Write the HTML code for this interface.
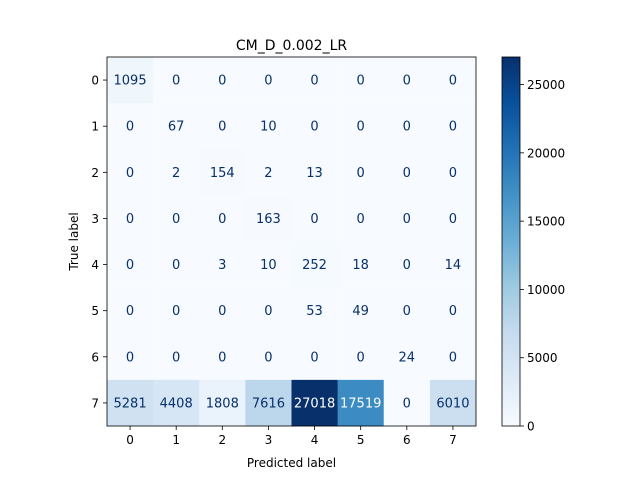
<!DOCTYPE html>
<html><head><meta charset="utf-8"><style>
body{margin:0;background:#fff}
svg text{font-family:"DejaVu Sans","Liberation Sans",sans-serif}
</style></head><body>
<svg id="c" width="640" height="480" xmlns="http://www.w3.org/2000/svg">
<defs><linearGradient id="g" x1="0" y1="1" x2="0" y2="0">
<stop offset="0" stop-color="#f7fbff"/><stop offset="0.125" stop-color="#deebf7"/><stop offset="0.25" stop-color="#c6dbef"/><stop offset="0.375" stop-color="#9ecae1"/><stop offset="0.5" stop-color="#6baed6"/><stop offset="0.625" stop-color="#4292c6"/><stop offset="0.75" stop-color="#2171b5"/><stop offset="0.875" stop-color="#08519c"/><stop offset="1" stop-color="#08306b"/></linearGradient></defs>
</svg>
<script>
const labels=[0,1,2,3,4,5,6,7];
const matrix=[
[1095,0,0,0,0,0,0,0],
[0,67,0,10,0,0,0,0],
[0,2,154,2,13,0,0,0],
[0,0,0,163,0,0,0,0],
[0,0,3,10,252,18,0,14],
[0,0,0,0,53,49,0,0],
[0,0,0,0,0,0,24,0],
[5281,4408,1808,7616,27018,17519,0,6010]];
const cbTicks=[0,5000,10000,15000,20000,25000];
const svg=document.getElementById('c');
const NS='http://www.w3.org/2000/svg';
const L=107,T=57,W=369,H=369,n=labels.length,cw=W/n,ch=H/n;
let vmax=0,vmin=Infinity;matrix.forEach(r=>r.forEach(v=>{vmax=Math.max(vmax,v);vmin=Math.min(vmin,v);}));
const stops=["#f7fbff","#deebf7","#c6dbef","#9ecae1","#6baed6","#4292c6","#2171b5","#08519c","#08306b"].map(h=>[1,3,5].map(i=>parseInt(h.substr(i,2),16)));
function cmap(t){t=Math.max(0,Math.min(1,t))*(stops.length-1);const i=Math.min(Math.floor(t),stops.length-2),f=t-i;const c=stops[i].map((v,k)=>Math.round(v+(stops[i+1][k]-v)*f));return `rgb(${c})`;}
function mk(tag,a,txt){const e=document.createElementNS(NS,tag);for(const k in a)e.setAttribute(k,a[k]);if(txt!==undefined)e.textContent=txt;svg.appendChild(e);return e;}
const xs=i=>L+cw*(i+0.5), ys=i=>T+ch*(i+0.5);
matrix.forEach((r,i)=>r.forEach((v,j)=>{
const c=mk('rect',{x:L+cw*j,y:T+ch*i,width:cw+0.3,height:ch+0.3,fill:cmap((v-vmin)/(vmax-vmin))});


const t=mk('text',{x:xs(j),y:ys(i)+4.5,'text-anchor':'middle','font-size':13,fill:v>(vmax+vmin)/2?'#fff':'#08306b'},v);


}));
const fr=mk('rect',{x:L,y:T,width:W,height:H,fill:'none',stroke:'#000','stroke-width':0.8});


labels.forEach((l,i)=>{
mk('line',{x1:xs(i),x2:xs(i),y1:T+H,y2:T+H+4,stroke:'#000','stroke-width':0.8});
const a=mk('text',{x:xs(i),y:T+H+18,'text-anchor':'middle','font-size':12},l);


mk('line',{x1:L-4,x2:L,y1:ys(i),y2:ys(i),stroke:'#000','stroke-width':0.8});
const b=mk('text',{x:L-8,y:ys(i)+4.5,'text-anchor':'end','font-size':12},l);


});
const tt=mk('text',{x:L+W/2,y:50,'text-anchor':'middle','font-size':14},'CM_D_0.002_LR');


const xl=mk('text',{x:L+W/2,y:467,'text-anchor':'middle','font-size':12},'Predicted label');


const yl=mk('text',{x:0,y:0,'text-anchor':'middle','font-size':12,transform:`translate(78,${T+H/2}) rotate(-90)`},'True label');


const CX=502,CW=18;
const cb=mk('rect',{x:CX,y:T,width:CW,height:H,fill:'url(#g)',stroke:'#000','stroke-width':0.8});


cbTicks.forEach(v=>{const y=T+H-(v-vmin)/(vmax-vmin)*H;
mk('line',{x1:CX+CW,x2:CX+CW+4,y1:y,y2:y,stroke:'#000','stroke-width':0.8});
const t=mk('text',{x:CX+CW+7,y:y+4.5,'font-size':12},v);

});
</script>
</body></html>
